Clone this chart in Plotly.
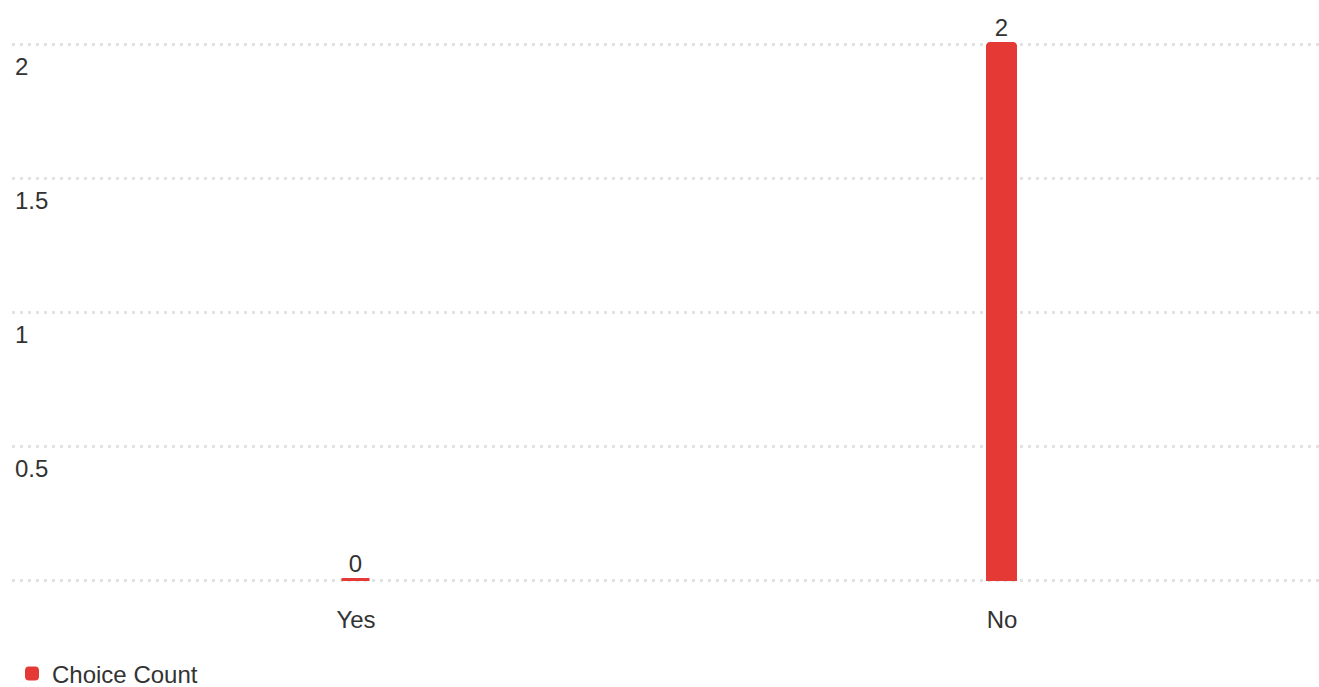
import plotly.graph_objects as go

categories = ["Yes", "No"]
choice_counts = [0, 2]
y_tick_vals = [0, 0.5, 1, 1.5, 2]
y_tick_text = ["", "0.5", "1", "1.5", "2"]

RED = "#e53935"
TEXT = "#333333"
FONT = "Liberation Sans, Arial, sans-serif"

fig = go.Figure()
fig.add_trace(go.Bar(
    x=categories,
    y=choice_counts,
    name="Choice Count",
    marker=dict(color=RED, line=dict(color=RED, width=3), cornerradius=3),
    width=0.044,
    text=[str(v) for v in choice_counts],
    textposition="outside",
    cliponaxis=False,
    textfont=dict(size=24, color=TEXT, family=FONT),
    showlegend=True,
))

fig.update_layout(
    width=1319, height=687,
    margin=dict(l=12, r=0, t=40, b=103, autoexpand=False),
    paper_bgcolor="white", plot_bgcolor="white",
    font=dict(family=FONT, size=24, color=TEXT),
    showlegend=True,
    legend=dict(orientation="h", x=0, xanchor="left", y=-0.1654, yanchor="middle",
                font=dict(size=24, color=TEXT), itemsizing="constant"),
    xaxis=dict(range=[-0.5325, 1.4907], showgrid=False, zeroline=False, showline=False,
               automargin=False,
               ticks="", ticklabelstandoff=19, tickfont=dict(size=24, color=TEXT)),
    yaxis=dict(range=[-0.0149, 2.015], tickvals=y_tick_vals, ticktext=y_tick_text,
               showgrid=True, gridcolor="#e2e2e2", gridwidth=3, griddash="3px,5px",
               zeroline=False, showline=False, ticks="", automargin=False,
               ticklabelposition="inside", ticklabelshift=23, ticklabelstandoff=0,
               tickfont=dict(size=24, color=TEXT)),
    bargap=0,
)

fig.write_html("out.html",
               config={"displayModeBar": False},
               post_script="document.body.style.margin='0';document.body.style.overflow='hidden';")
